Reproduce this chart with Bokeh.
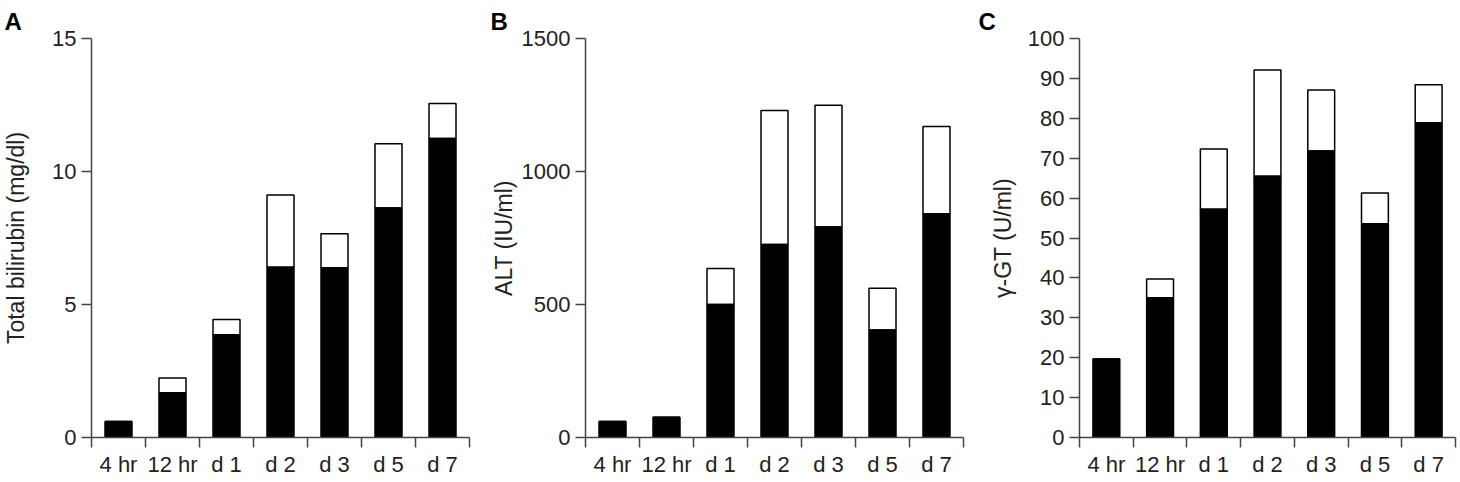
from bokeh.plotting import figure
from bokeh.layouts import row
from bokeh.models import FixedTicker
from bokeh.embed import file_html
from bokeh.resources import INLINE

categories = ["4 hr", "12 hr", "d 1", "d 2", "d 3", "d 5", "d 7"]

# Panel A: total bilirubin (mg/dl)
bili_black = [0.6, 1.68, 3.86, 6.4, 6.38, 8.63, 11.24]
bili_total = [0.6, 2.24, 4.44, 9.12, 7.66, 11.04, 12.56]
# Panel B: ALT (IU/ml)
alt_black = [60, 76, 500, 726, 791, 404, 841]
alt_total = [60, 76, 635, 1229, 1249, 561, 1169]
# Panel C: gamma-GT (U/ml)
ggt_black = [19.7, 35, 57.2, 65.5, 71.8, 53.6, 78.9]
ggt_total = [19.7, 39.7, 72.3, 92.1, 87.1, 61.3, 88.4]

FONT = "Liberation Sans"
TXT = "#222222"
AX = "#444444"
TOP = 38
BOTTOM = 45
H = 482


def panel(letter, ylabel, black, total, ymax, yticks, width, left, right, label_standoff):
    n = len(categories)
    p = figure(width=width, height=H, x_range=(0, n), y_range=(0, ymax),
               output_backend="svg", toolbar_location=None,
               min_border_left=left, min_border_right=right,
               min_border_top=TOP, min_border_bottom=BOTTOM)
    p.outline_line_color = None
    p.xgrid.visible = False
    p.ygrid.visible = False
    xs = [i + 0.5 for i in range(n)]
    p.vbar(x=xs, bottom=black, top=total, width=0.5, fill_color="white",
           line_color="black", line_width=1.5)
    p.vbar(x=xs, bottom=0, top=black, width=0.5, fill_color="black",
           line_color="black", line_width=1.5)

    xa = p.xaxis[0]
    xa.ticker = FixedTicker(ticks=xs, minor_ticks=list(range(n + 1)))
    xa.major_label_overrides = {x: c for x, c in zip(xs, categories)}
    xa.major_tick_out = 0
    xa.major_tick_in = 0
    xa.minor_tick_out = 10
    xa.minor_tick_in = 0
    xa.minor_tick_line_color = AX
    xa.minor_tick_line_width = 1.5
    xa.major_label_standoff = 4
    xa.axis_line_color = AX
    xa.axis_line_width = 1.5
    xa.major_label_text_font = FONT
    xa.major_label_text_font_size = "22px"
    xa.major_label_text_color = TXT

    ya = p.yaxis[0]
    ya.ticker = FixedTicker(ticks=yticks)
    ya.minor_tick_line_color = None
    ya.major_tick_out = 10
    ya.major_tick_in = 0
    ya.major_tick_line_color = AX
    ya.major_tick_line_width = 1.5
    ya.axis_line_color = AX
    ya.axis_line_width = 1.5
    ya.major_label_standoff = 5
    ya.major_label_text_font = FONT
    ya.major_label_text_font_size = "22px"
    ya.major_label_text_color = TXT
    ya.axis_label = ylabel
    ya.axis_label_text_font = FONT
    ya.axis_label_text_font_size = "23px"
    ya.axis_label_text_font_style = "normal"
    ya.axis_label_text_color = TXT
    ya.axis_label_standoff = label_standoff

    p.title.text = letter
    p.title.align = "left"
    p.title.offset = -(left - 3)
    p.title.text_font = FONT
    p.title.text_font_size = "24px"
    p.title.text_font_style = "bold"
    p.title.text_color = "black"
    p.title.standoff = 7
    return p


pa = panel("A", "Total bilirubin (mg/dl)", bili_black, bili_total, 15,
           [0, 5, 10, 15], 487, 90, 18, 20)
pb = panel("B", "ALT (IU/ml)", alt_black, alt_total, 1500,
           [0, 500, 1000, 1500], 488, 98, 12, 2)
pc = panel("C", "\u03b3-GT (U/ml)", ggt_black, ggt_total, 100,
           list(range(0, 101, 10)), 485, 104, 5, 9)

layout = row(pa, pb, pc)
open("out.html", "w").write(file_html(layout, INLINE))
